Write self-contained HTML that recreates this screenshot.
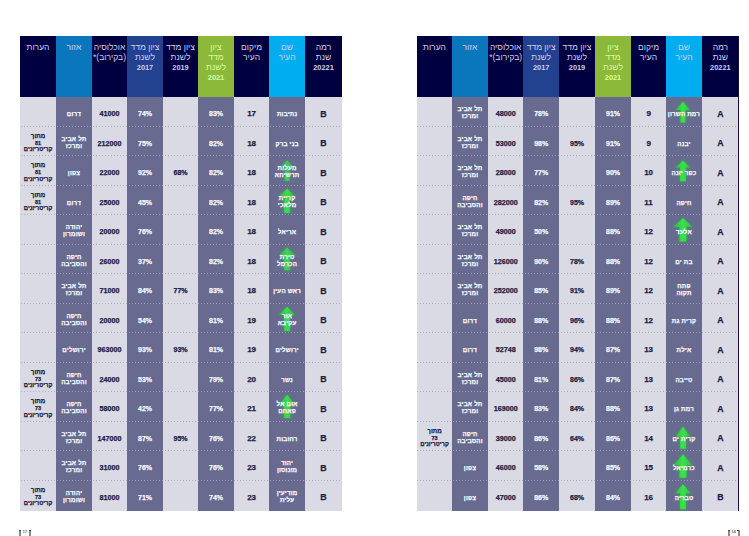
<!DOCTYPE html>
<html lang="he"><head><meta charset="utf-8">
<style>
html,body{margin:0;padding:0;}
body{width:749px;height:536px;background:#ffffff;position:relative;overflow:hidden;font-family:"Liberation Sans",sans-serif;}
.tbl,.tbl2{position:absolute;top:36px;width:322px;height:475px;}
.h{position:absolute;top:0;height:61px;box-sizing:border-box;padding-top:5.6px;color:#cfcff4;font-size:8.5px;line-height:10px;text-align:center;direction:rtl;white-space:nowrap;}
.h.g{color:#d6ff9c;}
.hn{font-size:7.4px;font-weight:bold;}
.colbg{position:absolute;top:61px;height:414px;}
.sep{position:absolute;height:1px;background-attachment:fixed;}
.sl{background-image:repeating-linear-gradient(90deg,#aeb0c3 0 1px,transparent 1px 3px);}
.sp{background-image:repeating-linear-gradient(90deg,#989bba 0 1px,transparent 1px 3px);}
svg.arr{position:absolute;left:0;top:0;}
.c{-webkit-text-stroke:0.25px currentColor;position:absolute;display:flex;align-items:center;justify-content:center;text-align:center;direction:rtl;white-space:nowrap;font-weight:bold;box-sizing:border-box;}
.c.d{color:#1b1d44;}
.c.w{color:#f6f6fc;}
.pop{font-size:7.2px;padding-top:4.4px;}
.pct{font-size:7px;padding-top:4.4px;}
.rank{font-size:8px;padding-top:4.4px;}
.lvl{font-size:8.8px;padding-top:4.4px;}
.heb{font-size:6.2px;line-height:7px;padding-top:1.5px;letter-spacing:0.2px;}
.heb.one{padding-top:4.3px;}
.note{font-size:6.2px;line-height:6.8px;padding-top:4px;}
.n81{font-size:5.5px;}
.kr{font-size:5.9px;}
.pg{position:absolute;top:529.3px;height:6px;font-size:4.2px;line-height:5px;color:#6a6a6a;font-weight:bold;}
.br{position:absolute;top:530px;width:1.9px;height:8px;background:#8c8c8c;}
.bt{position:absolute;top:530px;width:2px;height:1.2px;background:#444;}
</style></head><body>
<div class="tbl" style="left:20px">
<div class="h" style="left:0.00px;width:36.00px;background:#000040">הערות</div>
<div class="colbg" style="left:0.00px;width:36.00px;background:#d9dae4"></div>
<div class="h" style="left:36.00px;width:36.00px;background:#0a77bd">אזור</div>
<div class="colbg" style="left:36.00px;width:36.00px;background:#686b8f"></div>
<div class="h" style="left:72.00px;width:35.00px;background:#000040">אוכלוסיה<br>(בקירוב)*</div>
<div class="colbg" style="left:72.00px;width:35.00px;background:#d9dae4"></div>
<div class="h" style="left:107.00px;width:36.00px;background:#22418e">ציון מדד<br>לשנת<br><span class="hn">2017</span></div>
<div class="colbg" style="left:107.00px;width:36.00px;background:#686b8f"></div>
<div class="h" style="left:143.00px;width:35.00px;background:#000040">ציון מדד<br>לשנת<br><span class="hn">2019</span></div>
<div class="colbg" style="left:143.00px;width:35.00px;background:#d9dae4"></div>
<div class="h g" style="left:178.00px;width:36.00px;background:#8cb93a">ציון<br>מדד<br>לשנת<br><span class="hn">2021</span></div>
<div class="colbg" style="left:178.00px;width:36.00px;background:#686b8f"></div>
<div class="h" style="left:214.00px;width:35.20px;background:#000040">מיקום<br>העיר</div>
<div class="colbg" style="left:214.00px;width:35.20px;background:#d9dae4"></div>
<div class="h" style="left:249.20px;width:35.80px;background:#00adee">שם<br>העיר</div>
<div class="colbg" style="left:249.20px;width:35.80px;background:#686b8f"></div>
<div class="h" style="left:285.00px;width:37.00px;background:#000040">רמה<br>שנת<br><span class="hn">20221</span></div>
<div class="colbg" style="left:285.00px;width:37.00px;background:#d9dae4"></div>
<div class="sep sl" style="top:89.70px;left:0.00px;width:36.00px"></div>
<div class="sep sp" style="top:89.70px;left:36.00px;width:36.00px"></div>
<div class="sep sl" style="top:89.70px;left:72.00px;width:35.00px"></div>
<div class="sep sp" style="top:89.70px;left:107.00px;width:36.00px"></div>
<div class="sep sl" style="top:89.70px;left:143.00px;width:35.00px"></div>
<div class="sep sp" style="top:89.70px;left:178.00px;width:36.00px"></div>
<div class="sep sl" style="top:89.70px;left:214.00px;width:35.20px"></div>
<div class="sep sp" style="top:89.70px;left:249.20px;width:35.80px"></div>
<div class="sep sl" style="top:89.70px;left:285.00px;width:37.00px"></div>
<div class="sep sl" style="top:119.20px;left:0.00px;width:36.00px"></div>
<div class="sep sp" style="top:119.20px;left:36.00px;width:36.00px"></div>
<div class="sep sl" style="top:119.20px;left:72.00px;width:35.00px"></div>
<div class="sep sp" style="top:119.20px;left:107.00px;width:36.00px"></div>
<div class="sep sl" style="top:119.20px;left:143.00px;width:35.00px"></div>
<div class="sep sp" style="top:119.20px;left:178.00px;width:36.00px"></div>
<div class="sep sl" style="top:119.20px;left:214.00px;width:35.20px"></div>
<div class="sep sp" style="top:119.20px;left:249.20px;width:35.80px"></div>
<div class="sep sl" style="top:119.20px;left:285.00px;width:37.00px"></div>
<div class="sep sl" style="top:148.70px;left:0.00px;width:36.00px"></div>
<div class="sep sp" style="top:148.70px;left:36.00px;width:36.00px"></div>
<div class="sep sl" style="top:148.70px;left:72.00px;width:35.00px"></div>
<div class="sep sp" style="top:148.70px;left:107.00px;width:36.00px"></div>
<div class="sep sl" style="top:148.70px;left:143.00px;width:35.00px"></div>
<div class="sep sp" style="top:148.70px;left:178.00px;width:36.00px"></div>
<div class="sep sl" style="top:148.70px;left:214.00px;width:35.20px"></div>
<div class="sep sp" style="top:148.70px;left:249.20px;width:35.80px"></div>
<div class="sep sl" style="top:148.70px;left:285.00px;width:37.00px"></div>
<div class="sep sl" style="top:178.20px;left:0.00px;width:36.00px"></div>
<div class="sep sp" style="top:178.20px;left:36.00px;width:36.00px"></div>
<div class="sep sl" style="top:178.20px;left:72.00px;width:35.00px"></div>
<div class="sep sp" style="top:178.20px;left:107.00px;width:36.00px"></div>
<div class="sep sl" style="top:178.20px;left:143.00px;width:35.00px"></div>
<div class="sep sp" style="top:178.20px;left:178.00px;width:36.00px"></div>
<div class="sep sl" style="top:178.20px;left:214.00px;width:35.20px"></div>
<div class="sep sp" style="top:178.20px;left:249.20px;width:35.80px"></div>
<div class="sep sl" style="top:178.20px;left:285.00px;width:37.00px"></div>
<div class="sep sl" style="top:207.70px;left:0.00px;width:36.00px"></div>
<div class="sep sp" style="top:207.70px;left:36.00px;width:36.00px"></div>
<div class="sep sl" style="top:207.70px;left:72.00px;width:35.00px"></div>
<div class="sep sp" style="top:207.70px;left:107.00px;width:36.00px"></div>
<div class="sep sl" style="top:207.70px;left:143.00px;width:35.00px"></div>
<div class="sep sp" style="top:207.70px;left:178.00px;width:36.00px"></div>
<div class="sep sl" style="top:207.70px;left:214.00px;width:35.20px"></div>
<div class="sep sp" style="top:207.70px;left:249.20px;width:35.80px"></div>
<div class="sep sl" style="top:207.70px;left:285.00px;width:37.00px"></div>
<div class="sep sl" style="top:237.20px;left:0.00px;width:36.00px"></div>
<div class="sep sp" style="top:237.20px;left:36.00px;width:36.00px"></div>
<div class="sep sl" style="top:237.20px;left:72.00px;width:35.00px"></div>
<div class="sep sp" style="top:237.20px;left:107.00px;width:36.00px"></div>
<div class="sep sl" style="top:237.20px;left:143.00px;width:35.00px"></div>
<div class="sep sp" style="top:237.20px;left:178.00px;width:36.00px"></div>
<div class="sep sl" style="top:237.20px;left:214.00px;width:35.20px"></div>
<div class="sep sp" style="top:237.20px;left:249.20px;width:35.80px"></div>
<div class="sep sl" style="top:237.20px;left:285.00px;width:37.00px"></div>
<div class="sep sl" style="top:266.70px;left:0.00px;width:36.00px"></div>
<div class="sep sp" style="top:266.70px;left:36.00px;width:36.00px"></div>
<div class="sep sl" style="top:266.70px;left:72.00px;width:35.00px"></div>
<div class="sep sp" style="top:266.70px;left:107.00px;width:36.00px"></div>
<div class="sep sl" style="top:266.70px;left:143.00px;width:35.00px"></div>
<div class="sep sp" style="top:266.70px;left:178.00px;width:36.00px"></div>
<div class="sep sl" style="top:266.70px;left:214.00px;width:35.20px"></div>
<div class="sep sp" style="top:266.70px;left:249.20px;width:35.80px"></div>
<div class="sep sl" style="top:266.70px;left:285.00px;width:37.00px"></div>
<div class="sep sl" style="top:296.20px;left:0.00px;width:36.00px"></div>
<div class="sep sp" style="top:296.20px;left:36.00px;width:36.00px"></div>
<div class="sep sl" style="top:296.20px;left:72.00px;width:35.00px"></div>
<div class="sep sp" style="top:296.20px;left:107.00px;width:36.00px"></div>
<div class="sep sl" style="top:296.20px;left:143.00px;width:35.00px"></div>
<div class="sep sp" style="top:296.20px;left:178.00px;width:36.00px"></div>
<div class="sep sl" style="top:296.20px;left:214.00px;width:35.20px"></div>
<div class="sep sp" style="top:296.20px;left:249.20px;width:35.80px"></div>
<div class="sep sl" style="top:296.20px;left:285.00px;width:37.00px"></div>
<div class="sep sl" style="top:325.70px;left:0.00px;width:36.00px"></div>
<div class="sep sp" style="top:325.70px;left:36.00px;width:36.00px"></div>
<div class="sep sl" style="top:325.70px;left:72.00px;width:35.00px"></div>
<div class="sep sp" style="top:325.70px;left:107.00px;width:36.00px"></div>
<div class="sep sl" style="top:325.70px;left:143.00px;width:35.00px"></div>
<div class="sep sp" style="top:325.70px;left:178.00px;width:36.00px"></div>
<div class="sep sl" style="top:325.70px;left:214.00px;width:35.20px"></div>
<div class="sep sp" style="top:325.70px;left:249.20px;width:35.80px"></div>
<div class="sep sl" style="top:325.70px;left:285.00px;width:37.00px"></div>
<div class="sep sl" style="top:355.20px;left:0.00px;width:36.00px"></div>
<div class="sep sp" style="top:355.20px;left:36.00px;width:36.00px"></div>
<div class="sep sl" style="top:355.20px;left:72.00px;width:35.00px"></div>
<div class="sep sp" style="top:355.20px;left:107.00px;width:36.00px"></div>
<div class="sep sl" style="top:355.20px;left:143.00px;width:35.00px"></div>
<div class="sep sp" style="top:355.20px;left:178.00px;width:36.00px"></div>
<div class="sep sl" style="top:355.20px;left:214.00px;width:35.20px"></div>
<div class="sep sp" style="top:355.20px;left:249.20px;width:35.80px"></div>
<div class="sep sl" style="top:355.20px;left:285.00px;width:37.00px"></div>
<div class="sep sl" style="top:384.70px;left:0.00px;width:36.00px"></div>
<div class="sep sp" style="top:384.70px;left:36.00px;width:36.00px"></div>
<div class="sep sl" style="top:384.70px;left:72.00px;width:35.00px"></div>
<div class="sep sp" style="top:384.70px;left:107.00px;width:36.00px"></div>
<div class="sep sl" style="top:384.70px;left:143.00px;width:35.00px"></div>
<div class="sep sp" style="top:384.70px;left:178.00px;width:36.00px"></div>
<div class="sep sl" style="top:384.70px;left:214.00px;width:35.20px"></div>
<div class="sep sp" style="top:384.70px;left:249.20px;width:35.80px"></div>
<div class="sep sl" style="top:384.70px;left:285.00px;width:37.00px"></div>
<div class="sep sl" style="top:414.20px;left:0.00px;width:36.00px"></div>
<div class="sep sp" style="top:414.20px;left:36.00px;width:36.00px"></div>
<div class="sep sl" style="top:414.20px;left:72.00px;width:35.00px"></div>
<div class="sep sp" style="top:414.20px;left:107.00px;width:36.00px"></div>
<div class="sep sl" style="top:414.20px;left:143.00px;width:35.00px"></div>
<div class="sep sp" style="top:414.20px;left:178.00px;width:36.00px"></div>
<div class="sep sl" style="top:414.20px;left:214.00px;width:35.20px"></div>
<div class="sep sp" style="top:414.20px;left:249.20px;width:35.80px"></div>
<div class="sep sl" style="top:414.20px;left:285.00px;width:37.00px"></div>
<div class="sep sl" style="top:443.70px;left:0.00px;width:36.00px"></div>
<div class="sep sp" style="top:443.70px;left:36.00px;width:36.00px"></div>
<div class="sep sl" style="top:443.70px;left:72.00px;width:35.00px"></div>
<div class="sep sp" style="top:443.70px;left:107.00px;width:36.00px"></div>
<div class="sep sl" style="top:443.70px;left:143.00px;width:35.00px"></div>
<div class="sep sp" style="top:443.70px;left:178.00px;width:36.00px"></div>
<div class="sep sl" style="top:443.70px;left:214.00px;width:35.20px"></div>
<div class="sep sp" style="top:443.70px;left:249.20px;width:35.80px"></div>
<div class="sep sl" style="top:443.70px;left:285.00px;width:37.00px"></div>
</div>
<div class="tbl" style="left:417px">
<div class="h" style="left:0.00px;width:35.00px;background:#000040">הערות</div>
<div class="colbg" style="left:0.00px;width:35.00px;background:#d9dae4"></div>
<div class="h" style="left:35.00px;width:36.00px;background:#0a77bd">אזור</div>
<div class="colbg" style="left:35.00px;width:36.00px;background:#686b8f"></div>
<div class="h" style="left:71.00px;width:35.40px;background:#000040">אוכלוסיה<br>(בקירוב)*</div>
<div class="colbg" style="left:71.00px;width:35.40px;background:#d9dae4"></div>
<div class="h" style="left:106.40px;width:35.60px;background:#22418e">ציון מדד<br>לשנת<br><span class="hn">2017</span></div>
<div class="colbg" style="left:106.40px;width:35.60px;background:#686b8f"></div>
<div class="h" style="left:142.00px;width:36.00px;background:#000040">ציון מדד<br>לשנת<br><span class="hn">2019</span></div>
<div class="colbg" style="left:142.00px;width:36.00px;background:#d9dae4"></div>
<div class="h g" style="left:178.00px;width:36.00px;background:#8cb93a">ציון<br>מדד<br>לשנת<br><span class="hn">2021</span></div>
<div class="colbg" style="left:178.00px;width:36.00px;background:#686b8f"></div>
<div class="h" style="left:214.00px;width:35.20px;background:#000040">מיקום<br>העיר</div>
<div class="colbg" style="left:214.00px;width:35.20px;background:#d9dae4"></div>
<div class="h" style="left:249.20px;width:35.60px;background:#00adee">שם<br>העיר</div>
<div class="colbg" style="left:249.20px;width:35.60px;background:#686b8f"></div>
<div class="h" style="left:284.80px;width:37.20px;background:#000040">רמה<br>שנת<br><span class="hn">20221</span></div>
<div class="colbg" style="left:284.80px;width:37.20px;background:#d9dae4"></div>
<div class="sep sl" style="top:89.70px;left:0.00px;width:35.00px"></div>
<div class="sep sp" style="top:89.70px;left:35.00px;width:36.00px"></div>
<div class="sep sl" style="top:89.70px;left:71.00px;width:35.40px"></div>
<div class="sep sp" style="top:89.70px;left:106.40px;width:35.60px"></div>
<div class="sep sl" style="top:89.70px;left:142.00px;width:36.00px"></div>
<div class="sep sp" style="top:89.70px;left:178.00px;width:36.00px"></div>
<div class="sep sl" style="top:89.70px;left:214.00px;width:35.20px"></div>
<div class="sep sp" style="top:89.70px;left:249.20px;width:35.60px"></div>
<div class="sep sl" style="top:89.70px;left:284.80px;width:37.20px"></div>
<div class="sep sl" style="top:119.20px;left:0.00px;width:35.00px"></div>
<div class="sep sp" style="top:119.20px;left:35.00px;width:36.00px"></div>
<div class="sep sl" style="top:119.20px;left:71.00px;width:35.40px"></div>
<div class="sep sp" style="top:119.20px;left:106.40px;width:35.60px"></div>
<div class="sep sl" style="top:119.20px;left:142.00px;width:36.00px"></div>
<div class="sep sp" style="top:119.20px;left:178.00px;width:36.00px"></div>
<div class="sep sl" style="top:119.20px;left:214.00px;width:35.20px"></div>
<div class="sep sp" style="top:119.20px;left:249.20px;width:35.60px"></div>
<div class="sep sl" style="top:119.20px;left:284.80px;width:37.20px"></div>
<div class="sep sl" style="top:148.70px;left:0.00px;width:35.00px"></div>
<div class="sep sp" style="top:148.70px;left:35.00px;width:36.00px"></div>
<div class="sep sl" style="top:148.70px;left:71.00px;width:35.40px"></div>
<div class="sep sp" style="top:148.70px;left:106.40px;width:35.60px"></div>
<div class="sep sl" style="top:148.70px;left:142.00px;width:36.00px"></div>
<div class="sep sp" style="top:148.70px;left:178.00px;width:36.00px"></div>
<div class="sep sl" style="top:148.70px;left:214.00px;width:35.20px"></div>
<div class="sep sp" style="top:148.70px;left:249.20px;width:35.60px"></div>
<div class="sep sl" style="top:148.70px;left:284.80px;width:37.20px"></div>
<div class="sep sl" style="top:178.20px;left:0.00px;width:35.00px"></div>
<div class="sep sp" style="top:178.20px;left:35.00px;width:36.00px"></div>
<div class="sep sl" style="top:178.20px;left:71.00px;width:35.40px"></div>
<div class="sep sp" style="top:178.20px;left:106.40px;width:35.60px"></div>
<div class="sep sl" style="top:178.20px;left:142.00px;width:36.00px"></div>
<div class="sep sp" style="top:178.20px;left:178.00px;width:36.00px"></div>
<div class="sep sl" style="top:178.20px;left:214.00px;width:35.20px"></div>
<div class="sep sp" style="top:178.20px;left:249.20px;width:35.60px"></div>
<div class="sep sl" style="top:178.20px;left:284.80px;width:37.20px"></div>
<div class="sep sl" style="top:207.70px;left:0.00px;width:35.00px"></div>
<div class="sep sp" style="top:207.70px;left:35.00px;width:36.00px"></div>
<div class="sep sl" style="top:207.70px;left:71.00px;width:35.40px"></div>
<div class="sep sp" style="top:207.70px;left:106.40px;width:35.60px"></div>
<div class="sep sl" style="top:207.70px;left:142.00px;width:36.00px"></div>
<div class="sep sp" style="top:207.70px;left:178.00px;width:36.00px"></div>
<div class="sep sl" style="top:207.70px;left:214.00px;width:35.20px"></div>
<div class="sep sp" style="top:207.70px;left:249.20px;width:35.60px"></div>
<div class="sep sl" style="top:207.70px;left:284.80px;width:37.20px"></div>
<div class="sep sl" style="top:237.20px;left:0.00px;width:35.00px"></div>
<div class="sep sp" style="top:237.20px;left:35.00px;width:36.00px"></div>
<div class="sep sl" style="top:237.20px;left:71.00px;width:35.40px"></div>
<div class="sep sp" style="top:237.20px;left:106.40px;width:35.60px"></div>
<div class="sep sl" style="top:237.20px;left:142.00px;width:36.00px"></div>
<div class="sep sp" style="top:237.20px;left:178.00px;width:36.00px"></div>
<div class="sep sl" style="top:237.20px;left:214.00px;width:35.20px"></div>
<div class="sep sp" style="top:237.20px;left:249.20px;width:35.60px"></div>
<div class="sep sl" style="top:237.20px;left:284.80px;width:37.20px"></div>
<div class="sep sl" style="top:266.70px;left:0.00px;width:35.00px"></div>
<div class="sep sp" style="top:266.70px;left:35.00px;width:36.00px"></div>
<div class="sep sl" style="top:266.70px;left:71.00px;width:35.40px"></div>
<div class="sep sp" style="top:266.70px;left:106.40px;width:35.60px"></div>
<div class="sep sl" style="top:266.70px;left:142.00px;width:36.00px"></div>
<div class="sep sp" style="top:266.70px;left:178.00px;width:36.00px"></div>
<div class="sep sl" style="top:266.70px;left:214.00px;width:35.20px"></div>
<div class="sep sp" style="top:266.70px;left:249.20px;width:35.60px"></div>
<div class="sep sl" style="top:266.70px;left:284.80px;width:37.20px"></div>
<div class="sep sl" style="top:296.20px;left:0.00px;width:35.00px"></div>
<div class="sep sp" style="top:296.20px;left:35.00px;width:36.00px"></div>
<div class="sep sl" style="top:296.20px;left:71.00px;width:35.40px"></div>
<div class="sep sp" style="top:296.20px;left:106.40px;width:35.60px"></div>
<div class="sep sl" style="top:296.20px;left:142.00px;width:36.00px"></div>
<div class="sep sp" style="top:296.20px;left:178.00px;width:36.00px"></div>
<div class="sep sl" style="top:296.20px;left:214.00px;width:35.20px"></div>
<div class="sep sp" style="top:296.20px;left:249.20px;width:35.60px"></div>
<div class="sep sl" style="top:296.20px;left:284.80px;width:37.20px"></div>
<div class="sep sl" style="top:325.70px;left:0.00px;width:35.00px"></div>
<div class="sep sp" style="top:325.70px;left:35.00px;width:36.00px"></div>
<div class="sep sl" style="top:325.70px;left:71.00px;width:35.40px"></div>
<div class="sep sp" style="top:325.70px;left:106.40px;width:35.60px"></div>
<div class="sep sl" style="top:325.70px;left:142.00px;width:36.00px"></div>
<div class="sep sp" style="top:325.70px;left:178.00px;width:36.00px"></div>
<div class="sep sl" style="top:325.70px;left:214.00px;width:35.20px"></div>
<div class="sep sp" style="top:325.70px;left:249.20px;width:35.60px"></div>
<div class="sep sl" style="top:325.70px;left:284.80px;width:37.20px"></div>
<div class="sep sl" style="top:355.20px;left:0.00px;width:35.00px"></div>
<div class="sep sp" style="top:355.20px;left:35.00px;width:36.00px"></div>
<div class="sep sl" style="top:355.20px;left:71.00px;width:35.40px"></div>
<div class="sep sp" style="top:355.20px;left:106.40px;width:35.60px"></div>
<div class="sep sl" style="top:355.20px;left:142.00px;width:36.00px"></div>
<div class="sep sp" style="top:355.20px;left:178.00px;width:36.00px"></div>
<div class="sep sl" style="top:355.20px;left:214.00px;width:35.20px"></div>
<div class="sep sp" style="top:355.20px;left:249.20px;width:35.60px"></div>
<div class="sep sl" style="top:355.20px;left:284.80px;width:37.20px"></div>
<div class="sep sl" style="top:384.70px;left:0.00px;width:35.00px"></div>
<div class="sep sp" style="top:384.70px;left:35.00px;width:36.00px"></div>
<div class="sep sl" style="top:384.70px;left:71.00px;width:35.40px"></div>
<div class="sep sp" style="top:384.70px;left:106.40px;width:35.60px"></div>
<div class="sep sl" style="top:384.70px;left:142.00px;width:36.00px"></div>
<div class="sep sp" style="top:384.70px;left:178.00px;width:36.00px"></div>
<div class="sep sl" style="top:384.70px;left:214.00px;width:35.20px"></div>
<div class="sep sp" style="top:384.70px;left:249.20px;width:35.60px"></div>
<div class="sep sl" style="top:384.70px;left:284.80px;width:37.20px"></div>
<div class="sep sl" style="top:414.20px;left:0.00px;width:35.00px"></div>
<div class="sep sp" style="top:414.20px;left:35.00px;width:36.00px"></div>
<div class="sep sl" style="top:414.20px;left:71.00px;width:35.40px"></div>
<div class="sep sp" style="top:414.20px;left:106.40px;width:35.60px"></div>
<div class="sep sl" style="top:414.20px;left:142.00px;width:36.00px"></div>
<div class="sep sp" style="top:414.20px;left:178.00px;width:36.00px"></div>
<div class="sep sl" style="top:414.20px;left:214.00px;width:35.20px"></div>
<div class="sep sp" style="top:414.20px;left:249.20px;width:35.60px"></div>
<div class="sep sl" style="top:414.20px;left:284.80px;width:37.20px"></div>
<div class="sep sl" style="top:443.70px;left:0.00px;width:35.00px"></div>
<div class="sep sp" style="top:443.70px;left:35.00px;width:36.00px"></div>
<div class="sep sl" style="top:443.70px;left:71.00px;width:35.40px"></div>
<div class="sep sp" style="top:443.70px;left:106.40px;width:35.60px"></div>
<div class="sep sl" style="top:443.70px;left:142.00px;width:36.00px"></div>
<div class="sep sp" style="top:443.70px;left:178.00px;width:36.00px"></div>
<div class="sep sl" style="top:443.70px;left:214.00px;width:35.20px"></div>
<div class="sep sp" style="top:443.70px;left:249.20px;width:35.60px"></div>
<div class="sep sl" style="top:443.70px;left:284.80px;width:37.20px"></div>
</div>
<svg class="arr" width="749" height="536" viewBox="0 0 749 536">
<defs>
<linearGradient id="ag" x1="0" y1="0" x2="1" y2="0"><stop offset="0" stop-color="#2cc040"/><stop offset="0.5" stop-color="#3ae24c"/><stop offset="1" stop-color="#2cc040"/></linearGradient>
<filter id="bl" x="-30%" y="-30%" width="160%" height="160%"><feGaussianBlur stdDeviation="0.6"/></filter><filter id="bl2" x="-40%" y="-40%" width="180%" height="180%"><feGaussianBlur stdDeviation="1.2"/></filter>
</defs>
<g opacity="0.80"><polygon points="287.10,159.29 295.35,167.49 290.60,167.49 290.60,181.49 283.60,181.49 283.60,167.49 278.85,167.49" fill="#2fb548" opacity="0.55" filter="url(#bl2)"/><polygon points="287.10,160.59 293.70,166.99 289.60,166.99 289.60,180.99 284.60,180.99 284.60,166.99 280.50,166.99" fill="url(#ag)" filter="url(#bl)"/></g><g opacity="0.95"><polygon points="287.10,187.33 296.35,196.43 291.10,196.43 291.10,213.43 283.10,213.43 283.10,196.43 277.85,196.43" fill="#2fb548" opacity="0.55" filter="url(#bl2)"/><polygon points="287.10,188.63 294.70,195.93 290.10,195.93 290.10,212.93 284.10,212.93 284.10,195.93 279.50,195.93" fill="url(#ag)" filter="url(#bl)"/></g><g opacity="0.90"><polygon points="287.10,246.51 296.85,255.71 291.10,255.71 291.10,270.71 283.10,270.71 283.10,255.71 277.35,255.71" fill="#2fb548" opacity="0.55" filter="url(#bl2)"/><polygon points="287.10,247.81 295.20,255.21 290.10,255.21 290.10,270.21 284.10,270.21 284.10,255.21 279.00,255.21" fill="url(#ag)" filter="url(#bl)"/></g><g opacity="0.95"><polygon points="287.10,305.40 296.85,315.50 291.10,315.50 291.10,331.50 283.10,331.50 283.10,315.50 277.35,315.50" fill="#2fb548" opacity="0.55" filter="url(#bl2)"/><polygon points="287.10,306.70 295.20,315.00 290.10,315.00 290.10,331.00 284.10,331.00 284.10,315.00 279.00,315.00" fill="url(#ag)" filter="url(#bl)"/></g><g opacity="0.95"><polygon points="287.10,393.53 296.85,405.23 291.35,405.23 291.35,418.53 282.85,418.53 282.85,405.23 277.35,405.23" fill="#2fb548" opacity="0.55" filter="url(#bl2)"/><polygon points="287.10,394.83 295.20,404.73 290.35,404.73 290.35,418.03 283.85,418.03 283.85,404.73 279.00,404.73" fill="url(#ag)" filter="url(#bl)"/></g><g opacity="1.00"><polygon points="683.00,100.50 691.75,110.50 686.50,110.50 686.50,123.10 679.50,123.10 679.50,110.50 674.25,110.50" fill="#2fb548" opacity="0.55" filter="url(#bl2)"/><polygon points="683.00,101.80 690.10,110.00 685.50,110.00 685.50,122.60 680.50,122.60 680.50,110.00 675.90,110.00" fill="url(#ag)" filter="url(#bl)"/></g><g opacity="1.00"><polygon points="683.00,159.19 691.75,167.99 687.00,167.99 687.00,181.79 679.00,181.79 679.00,167.99 674.25,167.99" fill="#2fb548" opacity="0.55" filter="url(#bl2)"/><polygon points="683.00,160.49 690.10,167.49 686.00,167.49 686.00,181.29 680.00,181.29 680.00,167.49 675.90,167.49" fill="url(#ag)" filter="url(#bl)"/></g><g opacity="1.00"><polygon points="683.00,216.77 693.75,227.27 687.50,227.27 687.50,242.07 678.50,242.07 678.50,227.27 672.25,227.27" fill="#2fb548" opacity="0.55" filter="url(#bl2)"/><polygon points="683.00,218.07 692.10,226.77 686.50,226.77 686.50,241.57 679.50,241.57 679.50,226.77 673.90,226.77" fill="url(#ag)" filter="url(#bl)"/></g><g opacity="1.00"><polygon points="683.00,425.57 691.75,437.07 687.00,437.07 687.00,449.17 679.00,449.17 679.00,437.07 674.25,437.07" fill="#2fb548" opacity="0.55" filter="url(#bl2)"/><polygon points="683.00,426.87 690.10,436.57 686.00,436.57 686.00,448.67 680.00,448.67 680.00,436.57 675.90,436.57" fill="url(#ag)" filter="url(#bl)"/></g><g opacity="1.00"><polygon points="683.00,453.01 693.75,465.71 687.50,465.71 687.50,478.21 678.50,478.21 678.50,465.71 672.25,465.71" fill="#2fb548" opacity="0.55" filter="url(#bl2)"/><polygon points="683.00,454.31 692.10,465.21 686.50,465.21 686.50,477.71 679.50,477.71 679.50,465.21 673.90,465.21" fill="url(#ag)" filter="url(#bl)"/></g><g opacity="1.00"><polygon points="683.00,482.86 692.25,493.86 687.00,493.86 687.00,509.86 679.00,509.86 679.00,493.86 673.75,493.86" fill="#2fb548" opacity="0.55" filter="url(#bl2)"/><polygon points="683.00,484.16 690.60,493.36 686.00,493.36 686.00,509.36 680.00,509.36 680.00,493.36 675.40,493.36" fill="url(#ag)" filter="url(#bl)"/></g>
</svg>
<div class="tbl2" style="left:20px">
<div class="c heb one w" style="left:36.00px;width:36.00px;top:60.70px;height:29.50px"><div>דרום</div></div>
<div class="c pop d" style="left:72.00px;width:35.00px;top:60.70px;height:29.50px"><div>41000</div></div>
<div class="c pct w" style="left:107.00px;width:36.00px;top:60.70px;height:29.50px"><div>74%</div></div>
<div class="c pct w" style="left:178.00px;width:36.00px;top:60.70px;height:29.50px"><div>83%</div></div>
<div class="c rank d" style="left:214.00px;width:35.20px;top:60.70px;height:29.50px"><div>17</div></div>
<div class="c heb one w" style="left:249.20px;width:35.80px;top:60.70px;height:29.50px"><div>נתיבות</div></div>
<div class="c lvl d" style="left:285.00px;width:37.00px;top:60.70px;height:29.50px"><div>B</div></div>
<div class="c note d" style="left:0.00px;width:36.00px;top:90.20px;height:29.50px"><div>מתוך<br><span class="n81">81</span><br><span class="kr">קריטריונים</span></div></div>
<div class="c heb w" style="left:36.00px;width:36.00px;top:90.20px;height:29.50px"><div>תל אביב<br>ומרכז</div></div>
<div class="c pop d" style="left:72.00px;width:35.00px;top:90.20px;height:29.50px"><div>212000</div></div>
<div class="c pct w" style="left:107.00px;width:36.00px;top:90.20px;height:29.50px"><div>75%</div></div>
<div class="c pct w" style="left:178.00px;width:36.00px;top:90.20px;height:29.50px"><div>82%</div></div>
<div class="c rank d" style="left:214.00px;width:35.20px;top:90.20px;height:29.50px"><div>18</div></div>
<div class="c heb one w" style="left:249.20px;width:35.80px;top:90.20px;height:29.50px"><div>בני ברק</div></div>
<div class="c lvl d" style="left:285.00px;width:37.00px;top:90.20px;height:29.50px"><div>B</div></div>
<div class="c note d" style="left:0.00px;width:36.00px;top:119.70px;height:29.50px"><div>מתוך<br><span class="n81">81</span><br><span class="kr">קריטריונים</span></div></div>
<div class="c heb one w" style="left:36.00px;width:36.00px;top:119.70px;height:29.50px"><div>צפון</div></div>
<div class="c pop d" style="left:72.00px;width:35.00px;top:119.70px;height:29.50px"><div>22000</div></div>
<div class="c pct w" style="left:107.00px;width:36.00px;top:119.70px;height:29.50px"><div>92%</div></div>
<div class="c pct d" style="left:143.00px;width:35.00px;top:119.70px;height:29.50px"><div>68%</div></div>
<div class="c pct w" style="left:178.00px;width:36.00px;top:119.70px;height:29.50px"><div>82%</div></div>
<div class="c rank d" style="left:214.00px;width:35.20px;top:119.70px;height:29.50px"><div>18</div></div>
<div class="c heb w" style="left:249.20px;width:35.80px;top:119.70px;height:29.50px"><div>מעלות<br>תרשיחא</div></div>
<div class="c lvl d" style="left:285.00px;width:37.00px;top:119.70px;height:29.50px"><div>B</div></div>
<div class="c note d" style="left:0.00px;width:36.00px;top:149.20px;height:29.50px"><div>מתוך<br><span class="n81">81</span><br><span class="kr">קריטריונים</span></div></div>
<div class="c heb one w" style="left:36.00px;width:36.00px;top:149.20px;height:29.50px"><div>דרום</div></div>
<div class="c pop d" style="left:72.00px;width:35.00px;top:149.20px;height:29.50px"><div>25000</div></div>
<div class="c pct w" style="left:107.00px;width:36.00px;top:149.20px;height:29.50px"><div>45%</div></div>
<div class="c pct w" style="left:178.00px;width:36.00px;top:149.20px;height:29.50px"><div>82%</div></div>
<div class="c rank d" style="left:214.00px;width:35.20px;top:149.20px;height:29.50px"><div>18</div></div>
<div class="c heb w" style="left:249.20px;width:35.80px;top:149.20px;height:29.50px"><div>קריית<br>מלאכי</div></div>
<div class="c lvl d" style="left:285.00px;width:37.00px;top:149.20px;height:29.50px"><div>B</div></div>
<div class="c heb w" style="left:36.00px;width:36.00px;top:178.70px;height:29.50px"><div>יהודה<br>ושומרון</div></div>
<div class="c pop d" style="left:72.00px;width:35.00px;top:178.70px;height:29.50px"><div>20000</div></div>
<div class="c pct w" style="left:107.00px;width:36.00px;top:178.70px;height:29.50px"><div>76%</div></div>
<div class="c pct w" style="left:178.00px;width:36.00px;top:178.70px;height:29.50px"><div>82%</div></div>
<div class="c rank d" style="left:214.00px;width:35.20px;top:178.70px;height:29.50px"><div>18</div></div>
<div class="c heb one w" style="left:249.20px;width:35.80px;top:178.70px;height:29.50px"><div>אריאל</div></div>
<div class="c lvl d" style="left:285.00px;width:37.00px;top:178.70px;height:29.50px"><div>B</div></div>
<div class="c heb w" style="left:36.00px;width:36.00px;top:208.20px;height:29.50px"><div>חיפה<br>והסביבה</div></div>
<div class="c pop d" style="left:72.00px;width:35.00px;top:208.20px;height:29.50px"><div>26000</div></div>
<div class="c pct w" style="left:107.00px;width:36.00px;top:208.20px;height:29.50px"><div>37%</div></div>
<div class="c pct w" style="left:178.00px;width:36.00px;top:208.20px;height:29.50px"><div>82%</div></div>
<div class="c rank d" style="left:214.00px;width:35.20px;top:208.20px;height:29.50px"><div>18</div></div>
<div class="c heb w" style="left:249.20px;width:35.80px;top:208.20px;height:29.50px"><div>טירת<br>הכרמל</div></div>
<div class="c lvl d" style="left:285.00px;width:37.00px;top:208.20px;height:29.50px"><div>B</div></div>
<div class="c heb w" style="left:36.00px;width:36.00px;top:237.70px;height:29.50px"><div>תל אביב<br>ומרכז</div></div>
<div class="c pop d" style="left:72.00px;width:35.00px;top:237.70px;height:29.50px"><div>71000</div></div>
<div class="c pct w" style="left:107.00px;width:36.00px;top:237.70px;height:29.50px"><div>84%</div></div>
<div class="c pct d" style="left:143.00px;width:35.00px;top:237.70px;height:29.50px"><div>77%</div></div>
<div class="c pct w" style="left:178.00px;width:36.00px;top:237.70px;height:29.50px"><div>83%</div></div>
<div class="c rank d" style="left:214.00px;width:35.20px;top:237.70px;height:29.50px"><div>18</div></div>
<div class="c heb one w" style="left:249.20px;width:35.80px;top:237.70px;height:29.50px"><div>ראש העין</div></div>
<div class="c lvl d" style="left:285.00px;width:37.00px;top:237.70px;height:29.50px"><div>B</div></div>
<div class="c heb w" style="left:36.00px;width:36.00px;top:267.20px;height:29.50px"><div>חיפה<br>והסביבה</div></div>
<div class="c pop d" style="left:72.00px;width:35.00px;top:267.20px;height:29.50px"><div>20000</div></div>
<div class="c pct w" style="left:107.00px;width:36.00px;top:267.20px;height:29.50px"><div>54%</div></div>
<div class="c pct w" style="left:178.00px;width:36.00px;top:267.20px;height:29.50px"><div>81%</div></div>
<div class="c rank d" style="left:214.00px;width:35.20px;top:267.20px;height:29.50px"><div>19</div></div>
<div class="c heb w" style="left:249.20px;width:35.80px;top:267.20px;height:29.50px"><div>אור<br>עקיבא</div></div>
<div class="c lvl d" style="left:285.00px;width:37.00px;top:267.20px;height:29.50px"><div>B</div></div>
<div class="c heb one w" style="left:36.00px;width:36.00px;top:296.70px;height:29.50px"><div>ירושלים</div></div>
<div class="c pop d" style="left:72.00px;width:35.00px;top:296.70px;height:29.50px"><div>963000</div></div>
<div class="c pct w" style="left:107.00px;width:36.00px;top:296.70px;height:29.50px"><div>93%</div></div>
<div class="c pct d" style="left:143.00px;width:35.00px;top:296.70px;height:29.50px"><div>93%</div></div>
<div class="c pct w" style="left:178.00px;width:36.00px;top:296.70px;height:29.50px"><div>81%</div></div>
<div class="c rank d" style="left:214.00px;width:35.20px;top:296.70px;height:29.50px"><div>19</div></div>
<div class="c heb one w" style="left:249.20px;width:35.80px;top:296.70px;height:29.50px"><div>ירושלים</div></div>
<div class="c lvl d" style="left:285.00px;width:37.00px;top:296.70px;height:29.50px"><div>B</div></div>
<div class="c note d" style="left:0.00px;width:36.00px;top:326.20px;height:29.50px"><div>מתוך<br><span class="n81">73</span><br><span class="kr">קריטריונים</span></div></div>
<div class="c heb w" style="left:36.00px;width:36.00px;top:326.20px;height:29.50px"><div>חיפה<br>והסביבה</div></div>
<div class="c pop d" style="left:72.00px;width:35.00px;top:326.20px;height:29.50px"><div>24000</div></div>
<div class="c pct w" style="left:107.00px;width:36.00px;top:326.20px;height:29.50px"><div>53%</div></div>
<div class="c pct w" style="left:178.00px;width:36.00px;top:326.20px;height:29.50px"><div>79%</div></div>
<div class="c rank d" style="left:214.00px;width:35.20px;top:326.20px;height:29.50px"><div>20</div></div>
<div class="c heb one w" style="left:249.20px;width:35.80px;top:326.20px;height:29.50px"><div>נשר</div></div>
<div class="c lvl d" style="left:285.00px;width:37.00px;top:326.20px;height:29.50px"><div>B</div></div>
<div class="c note d" style="left:0.00px;width:36.00px;top:355.70px;height:29.50px"><div>מתוך<br><span class="n81">73</span><br><span class="kr">קריטריונים</span></div></div>
<div class="c heb w" style="left:36.00px;width:36.00px;top:355.70px;height:29.50px"><div>חיפה<br>והסביבה</div></div>
<div class="c pop d" style="left:72.00px;width:35.00px;top:355.70px;height:29.50px"><div>58000</div></div>
<div class="c pct w" style="left:107.00px;width:36.00px;top:355.70px;height:29.50px"><div>42%</div></div>
<div class="c pct w" style="left:178.00px;width:36.00px;top:355.70px;height:29.50px"><div>77%</div></div>
<div class="c rank d" style="left:214.00px;width:35.20px;top:355.70px;height:29.50px"><div>21</div></div>
<div class="c heb w" style="left:249.20px;width:35.80px;top:355.70px;height:29.50px"><div>אום אל<br>פאחם</div></div>
<div class="c lvl d" style="left:285.00px;width:37.00px;top:355.70px;height:29.50px"><div>B</div></div>
<div class="c heb w" style="left:36.00px;width:36.00px;top:385.20px;height:29.50px"><div>תל אביב<br>ומרכז</div></div>
<div class="c pop d" style="left:72.00px;width:35.00px;top:385.20px;height:29.50px"><div>147000</div></div>
<div class="c pct w" style="left:107.00px;width:36.00px;top:385.20px;height:29.50px"><div>87%</div></div>
<div class="c pct d" style="left:143.00px;width:35.00px;top:385.20px;height:29.50px"><div>95%</div></div>
<div class="c pct w" style="left:178.00px;width:36.00px;top:385.20px;height:29.50px"><div>76%</div></div>
<div class="c rank d" style="left:214.00px;width:35.20px;top:385.20px;height:29.50px"><div>22</div></div>
<div class="c heb one w" style="left:249.20px;width:35.80px;top:385.20px;height:29.50px"><div>רחובות</div></div>
<div class="c lvl d" style="left:285.00px;width:37.00px;top:385.20px;height:29.50px"><div>B</div></div>
<div class="c heb w" style="left:36.00px;width:36.00px;top:414.70px;height:29.50px"><div>תל אביב<br>ומרכז</div></div>
<div class="c pop d" style="left:72.00px;width:35.00px;top:414.70px;height:29.50px"><div>31000</div></div>
<div class="c pct w" style="left:107.00px;width:36.00px;top:414.70px;height:29.50px"><div>76%</div></div>
<div class="c pct w" style="left:178.00px;width:36.00px;top:414.70px;height:29.50px"><div>76%</div></div>
<div class="c rank d" style="left:214.00px;width:35.20px;top:414.70px;height:29.50px"><div>23</div></div>
<div class="c heb w" style="left:249.20px;width:35.80px;top:414.70px;height:29.50px"><div>יהוד<br>מונוסון</div></div>
<div class="c lvl d" style="left:285.00px;width:37.00px;top:414.70px;height:29.50px"><div>B</div></div>
<div class="c note d" style="left:0.00px;width:36.00px;top:444.20px;height:29.50px"><div>מתוך<br><span class="n81">73</span><br><span class="kr">קריטריונים</span></div></div>
<div class="c heb w" style="left:36.00px;width:36.00px;top:444.20px;height:29.50px"><div>יהודה<br>ושומרון</div></div>
<div class="c pop d" style="left:72.00px;width:35.00px;top:444.20px;height:29.50px"><div>81000</div></div>
<div class="c pct w" style="left:107.00px;width:36.00px;top:444.20px;height:29.50px"><div>71%</div></div>
<div class="c pct w" style="left:178.00px;width:36.00px;top:444.20px;height:29.50px"><div>74%</div></div>
<div class="c rank d" style="left:214.00px;width:35.20px;top:444.20px;height:29.50px"><div>23</div></div>
<div class="c heb w" style="left:249.20px;width:35.80px;top:444.20px;height:29.50px"><div>מודיעין<br>עלית</div></div>
<div class="c lvl d" style="left:285.00px;width:37.00px;top:444.20px;height:29.50px"><div>B</div></div>
</div>
<div class="tbl2" style="left:417px">
<div class="c heb w" style="left:35.00px;width:36.00px;top:60.70px;height:29.50px"><div>תל אביב<br>ומרכז</div></div>
<div class="c pop d" style="left:71.00px;width:35.40px;top:60.70px;height:29.50px"><div>48000</div></div>
<div class="c pct w" style="left:106.40px;width:35.60px;top:60.70px;height:29.50px"><div>78%</div></div>
<div class="c pct w" style="left:178.00px;width:36.00px;top:60.70px;height:29.50px"><div>91%</div></div>
<div class="c rank d" style="left:214.00px;width:35.20px;top:60.70px;height:29.50px"><div>9</div></div>
<div class="c heb one w" style="left:249.20px;width:35.60px;top:60.70px;height:29.50px"><div>רמת השרון</div></div>
<div class="c lvl d" style="left:284.80px;width:37.20px;top:60.70px;height:29.50px"><div>A</div></div>
<div class="c heb w" style="left:35.00px;width:36.00px;top:90.20px;height:29.50px"><div>תל אביב<br>ומרכז</div></div>
<div class="c pop d" style="left:71.00px;width:35.40px;top:90.20px;height:29.50px"><div>53000</div></div>
<div class="c pct w" style="left:106.40px;width:35.60px;top:90.20px;height:29.50px"><div>98%</div></div>
<div class="c pct d" style="left:142.00px;width:36.00px;top:90.20px;height:29.50px"><div>95%</div></div>
<div class="c pct w" style="left:178.00px;width:36.00px;top:90.20px;height:29.50px"><div>91%</div></div>
<div class="c rank d" style="left:214.00px;width:35.20px;top:90.20px;height:29.50px"><div>9</div></div>
<div class="c heb one w" style="left:249.20px;width:35.60px;top:90.20px;height:29.50px"><div>יבנה</div></div>
<div class="c lvl d" style="left:284.80px;width:37.20px;top:90.20px;height:29.50px"><div>A</div></div>
<div class="c heb w" style="left:35.00px;width:36.00px;top:119.70px;height:29.50px"><div>תל אביב<br>ומרכז</div></div>
<div class="c pop d" style="left:71.00px;width:35.40px;top:119.70px;height:29.50px"><div>28000</div></div>
<div class="c pct w" style="left:106.40px;width:35.60px;top:119.70px;height:29.50px"><div>77%</div></div>
<div class="c pct w" style="left:178.00px;width:36.00px;top:119.70px;height:29.50px"><div>90%</div></div>
<div class="c rank d" style="left:214.00px;width:35.20px;top:119.70px;height:29.50px"><div>10</div></div>
<div class="c heb one w" style="left:249.20px;width:35.60px;top:119.70px;height:29.50px"><div>כפר יונה</div></div>
<div class="c lvl d" style="left:284.80px;width:37.20px;top:119.70px;height:29.50px"><div>A</div></div>
<div class="c heb w" style="left:35.00px;width:36.00px;top:149.20px;height:29.50px"><div>חיפה<br>והסביבה</div></div>
<div class="c pop d" style="left:71.00px;width:35.40px;top:149.20px;height:29.50px"><div>282000</div></div>
<div class="c pct w" style="left:106.40px;width:35.60px;top:149.20px;height:29.50px"><div>82%</div></div>
<div class="c pct d" style="left:142.00px;width:36.00px;top:149.20px;height:29.50px"><div>95%</div></div>
<div class="c pct w" style="left:178.00px;width:36.00px;top:149.20px;height:29.50px"><div>89%</div></div>
<div class="c rank d" style="left:214.00px;width:35.20px;top:149.20px;height:29.50px"><div>11</div></div>
<div class="c heb one w" style="left:249.20px;width:35.60px;top:149.20px;height:29.50px"><div>חיפה</div></div>
<div class="c lvl d" style="left:284.80px;width:37.20px;top:149.20px;height:29.50px"><div>A</div></div>
<div class="c heb w" style="left:35.00px;width:36.00px;top:178.70px;height:29.50px"><div>תל אביב<br>ומרכז</div></div>
<div class="c pop d" style="left:71.00px;width:35.40px;top:178.70px;height:29.50px"><div>49000</div></div>
<div class="c pct w" style="left:106.40px;width:35.60px;top:178.70px;height:29.50px"><div>50%</div></div>
<div class="c pct w" style="left:178.00px;width:36.00px;top:178.70px;height:29.50px"><div>88%</div></div>
<div class="c rank d" style="left:214.00px;width:35.20px;top:178.70px;height:29.50px"><div>12</div></div>
<div class="c heb one w" style="left:249.20px;width:35.60px;top:178.70px;height:29.50px"><div>אלעד</div></div>
<div class="c lvl d" style="left:284.80px;width:37.20px;top:178.70px;height:29.50px"><div>A</div></div>
<div class="c heb w" style="left:35.00px;width:36.00px;top:208.20px;height:29.50px"><div>תל אביב<br>ומרכז</div></div>
<div class="c pop d" style="left:71.00px;width:35.40px;top:208.20px;height:29.50px"><div>126000</div></div>
<div class="c pct w" style="left:106.40px;width:35.60px;top:208.20px;height:29.50px"><div>90%</div></div>
<div class="c pct d" style="left:142.00px;width:36.00px;top:208.20px;height:29.50px"><div>78%</div></div>
<div class="c pct w" style="left:178.00px;width:36.00px;top:208.20px;height:29.50px"><div>88%</div></div>
<div class="c rank d" style="left:214.00px;width:35.20px;top:208.20px;height:29.50px"><div>12</div></div>
<div class="c heb one w" style="left:249.20px;width:35.60px;top:208.20px;height:29.50px"><div>בת ים</div></div>
<div class="c lvl d" style="left:284.80px;width:37.20px;top:208.20px;height:29.50px"><div>A</div></div>
<div class="c heb w" style="left:35.00px;width:36.00px;top:237.70px;height:29.50px"><div>תל אביב<br>ומרכז</div></div>
<div class="c pop d" style="left:71.00px;width:35.40px;top:237.70px;height:29.50px"><div>252000</div></div>
<div class="c pct w" style="left:106.40px;width:35.60px;top:237.70px;height:29.50px"><div>85%</div></div>
<div class="c pct d" style="left:142.00px;width:36.00px;top:237.70px;height:29.50px"><div>91%</div></div>
<div class="c pct w" style="left:178.00px;width:36.00px;top:237.70px;height:29.50px"><div>89%</div></div>
<div class="c rank d" style="left:214.00px;width:35.20px;top:237.70px;height:29.50px"><div>12</div></div>
<div class="c heb w" style="left:249.20px;width:35.60px;top:237.70px;height:29.50px"><div>פתח<br>תקוה</div></div>
<div class="c lvl d" style="left:284.80px;width:37.20px;top:237.70px;height:29.50px"><div>A</div></div>
<div class="c heb one w" style="left:35.00px;width:36.00px;top:267.20px;height:29.50px"><div>דרום</div></div>
<div class="c pop d" style="left:71.00px;width:35.40px;top:267.20px;height:29.50px"><div>60000</div></div>
<div class="c pct w" style="left:106.40px;width:35.60px;top:267.20px;height:29.50px"><div>88%</div></div>
<div class="c pct d" style="left:142.00px;width:36.00px;top:267.20px;height:29.50px"><div>96%</div></div>
<div class="c pct w" style="left:178.00px;width:36.00px;top:267.20px;height:29.50px"><div>88%</div></div>
<div class="c rank d" style="left:214.00px;width:35.20px;top:267.20px;height:29.50px"><div>12</div></div>
<div class="c heb one w" style="left:249.20px;width:35.60px;top:267.20px;height:29.50px"><div>קרית גת</div></div>
<div class="c lvl d" style="left:284.80px;width:37.20px;top:267.20px;height:29.50px"><div>A</div></div>
<div class="c heb one w" style="left:35.00px;width:36.00px;top:296.70px;height:29.50px"><div>דרום</div></div>
<div class="c pop d" style="left:71.00px;width:35.40px;top:296.70px;height:29.50px"><div>52748</div></div>
<div class="c pct w" style="left:106.40px;width:35.60px;top:296.70px;height:29.50px"><div>98%</div></div>
<div class="c pct d" style="left:142.00px;width:36.00px;top:296.70px;height:29.50px"><div>94%</div></div>
<div class="c pct w" style="left:178.00px;width:36.00px;top:296.70px;height:29.50px"><div>87%</div></div>
<div class="c rank d" style="left:214.00px;width:35.20px;top:296.70px;height:29.50px"><div>13</div></div>
<div class="c heb one w" style="left:249.20px;width:35.60px;top:296.70px;height:29.50px"><div>אילת</div></div>
<div class="c lvl d" style="left:284.80px;width:37.20px;top:296.70px;height:29.50px"><div>A</div></div>
<div class="c heb w" style="left:35.00px;width:36.00px;top:326.20px;height:29.50px"><div>תל אביב<br>ומרכז</div></div>
<div class="c pop d" style="left:71.00px;width:35.40px;top:326.20px;height:29.50px"><div>45000</div></div>
<div class="c pct w" style="left:106.40px;width:35.60px;top:326.20px;height:29.50px"><div>81%</div></div>
<div class="c pct d" style="left:142.00px;width:36.00px;top:326.20px;height:29.50px"><div>86%</div></div>
<div class="c pct w" style="left:178.00px;width:36.00px;top:326.20px;height:29.50px"><div>87%</div></div>
<div class="c rank d" style="left:214.00px;width:35.20px;top:326.20px;height:29.50px"><div>13</div></div>
<div class="c heb one w" style="left:249.20px;width:35.60px;top:326.20px;height:29.50px"><div>טייבה</div></div>
<div class="c lvl d" style="left:284.80px;width:37.20px;top:326.20px;height:29.50px"><div>A</div></div>
<div class="c heb w" style="left:35.00px;width:36.00px;top:355.70px;height:29.50px"><div>תל אביב<br>ומרכז</div></div>
<div class="c pop d" style="left:71.00px;width:35.40px;top:355.70px;height:29.50px"><div>169000</div></div>
<div class="c pct w" style="left:106.40px;width:35.60px;top:355.70px;height:29.50px"><div>83%</div></div>
<div class="c pct d" style="left:142.00px;width:36.00px;top:355.70px;height:29.50px"><div>84%</div></div>
<div class="c pct w" style="left:178.00px;width:36.00px;top:355.70px;height:29.50px"><div>88%</div></div>
<div class="c rank d" style="left:214.00px;width:35.20px;top:355.70px;height:29.50px"><div>13</div></div>
<div class="c heb one w" style="left:249.20px;width:35.60px;top:355.70px;height:29.50px"><div>רמת גן</div></div>
<div class="c lvl d" style="left:284.80px;width:37.20px;top:355.70px;height:29.50px"><div>A</div></div>
<div class="c note d" style="left:0.00px;width:35.00px;top:385.20px;height:29.50px"><div>מתוך<br><span class="n81">73</span><br><span class="kr">קריטריונים</span></div></div>
<div class="c heb w" style="left:35.00px;width:36.00px;top:385.20px;height:29.50px"><div>חיפה<br>והסביבה</div></div>
<div class="c pop d" style="left:71.00px;width:35.40px;top:385.20px;height:29.50px"><div>39000</div></div>
<div class="c pct w" style="left:106.40px;width:35.60px;top:385.20px;height:29.50px"><div>86%</div></div>
<div class="c pct d" style="left:142.00px;width:36.00px;top:385.20px;height:29.50px"><div>64%</div></div>
<div class="c pct w" style="left:178.00px;width:36.00px;top:385.20px;height:29.50px"><div>86%</div></div>
<div class="c rank d" style="left:214.00px;width:35.20px;top:385.20px;height:29.50px"><div>14</div></div>
<div class="c heb one w" style="left:249.20px;width:35.60px;top:385.20px;height:29.50px"><div>קרית ים</div></div>
<div class="c lvl d" style="left:284.80px;width:37.20px;top:385.20px;height:29.50px"><div>A</div></div>
<div class="c heb one w" style="left:35.00px;width:36.00px;top:414.70px;height:29.50px"><div>צפון</div></div>
<div class="c pop d" style="left:71.00px;width:35.40px;top:414.70px;height:29.50px"><div>46000</div></div>
<div class="c pct w" style="left:106.40px;width:35.60px;top:414.70px;height:29.50px"><div>58%</div></div>
<div class="c pct w" style="left:178.00px;width:36.00px;top:414.70px;height:29.50px"><div>85%</div></div>
<div class="c rank d" style="left:214.00px;width:35.20px;top:414.70px;height:29.50px"><div>15</div></div>
<div class="c heb one w" style="left:249.20px;width:35.60px;top:414.70px;height:29.50px"><div>כרמיאל</div></div>
<div class="c lvl d" style="left:284.80px;width:37.20px;top:414.70px;height:29.50px"><div>A</div></div>
<div class="c heb one w" style="left:35.00px;width:36.00px;top:444.20px;height:29.50px"><div>צפון</div></div>
<div class="c pop d" style="left:71.00px;width:35.40px;top:444.20px;height:29.50px"><div>47000</div></div>
<div class="c pct w" style="left:106.40px;width:35.60px;top:444.20px;height:29.50px"><div>86%</div></div>
<div class="c pct d" style="left:142.00px;width:36.00px;top:444.20px;height:29.50px"><div>68%</div></div>
<div class="c pct w" style="left:178.00px;width:36.00px;top:444.20px;height:29.50px"><div>84%</div></div>
<div class="c rank d" style="left:214.00px;width:35.20px;top:444.20px;height:29.50px"><div>16</div></div>
<div class="c heb one w" style="left:249.20px;width:35.60px;top:444.20px;height:29.50px"><div>טבריה</div></div>
<div class="c lvl d" style="left:284.80px;width:37.20px;top:444.20px;height:29.50px"><div>B</div></div>
<div style="position:absolute;left:321px;top:0;width:1px;height:475px;background:#10123a"></div>
</div>
<div class="br" style="left:19.1px"></div><div class="bt" style="left:19.3px"></div><div class="pg" style="left:22.4px">17</div><div class="br" style="left:29px"></div><div class="bt" style="left:28.8px"></div>
<div class="br" style="left:728.2px"></div><div class="bt" style="left:728.3px"></div><div class="pg" style="left:731.2px">14</div><div class="br" style="left:737.7px"></div><div class="bt" style="left:737.4px"></div>
</body></html>
